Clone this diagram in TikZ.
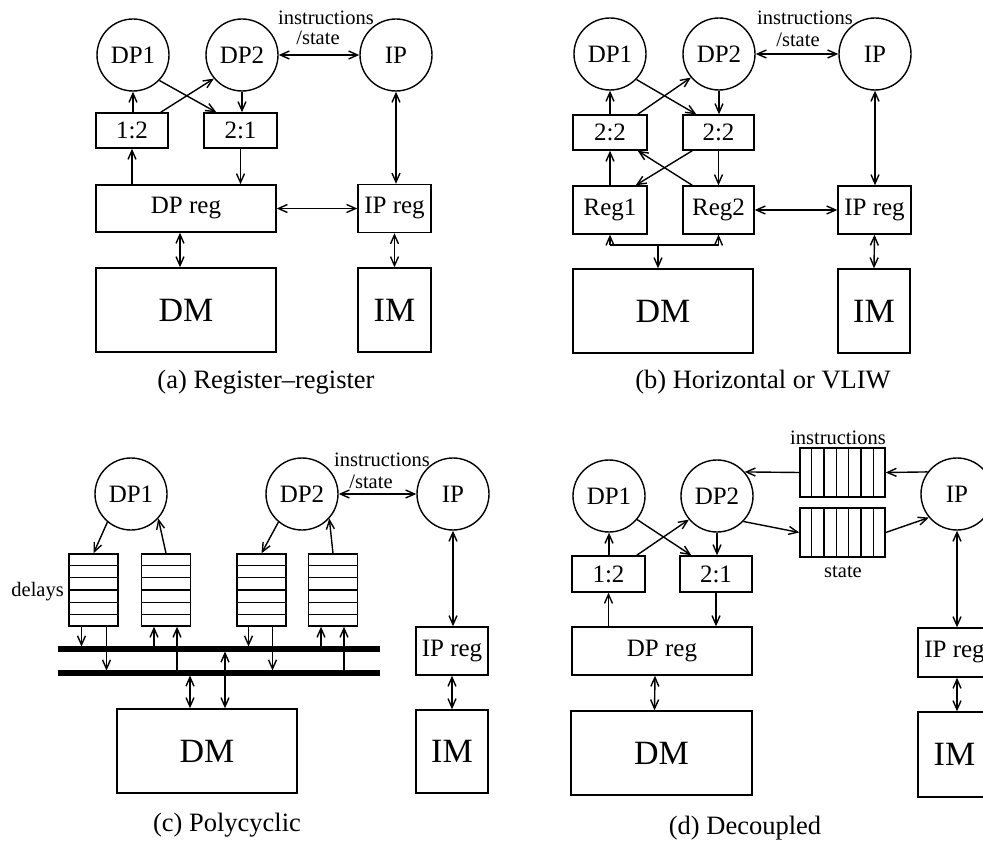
\documentclass[tikz,border=0pt]{standalone}
\usepackage{fontspec}
\setmainfont{Liberation Serif}
\usetikzlibrary{arrows.meta,calc}
\newcommand{\labf}{\fontsize{25}{27}\selectfont}
\newcommand{\bigf}{\fontsize{34}{36}\selectfont}
\newcommand{\smallf}{\fontsize{20.5}{22}\selectfont}
\newcommand{\capf}{\fontsize{26.5}{28}\selectfont}
\begin{document}
\begin{tikzpicture}[x=1pt,y=-1pt,
  circ/.style={draw, circle, line width=1.4pt, minimum size=72pt, inner sep=0pt, font=\labf},
  box/.style={draw, rectangle, line width=1.4pt, inner sep=0pt, font=\labf},
  mem/.style={box, font=\bigf},
  lbl/.style={inner sep=0pt, font=\smallf},
  captxt/.style={inner sep=0pt, font=\capf},
  barb/.tip={Straight Barb[length=9pt,width=8pt]},
  arr/.style={-barb, line width=1.4pt},
  darr/.style={barb-barb, line width=1.4pt},
  busline/.style={line width=5.5pt},
  hline/.style={line width=1.4pt}
]
\useasboundingbox (0,0) rectangle (983,842);
\clip (0,0) rectangle (983,842);

% ================= (a) =================
\node[circ] (dp1a) at (133,55) {DP1};
\node[circ] (dp2a) at (242,55) {DP2};
\node[circ] (ipa) at (396,55) {IP};
\node[box, minimum width=72pt, minimum height=35pt] (b12a) at (132,130.5) {1:2};
\node[box, minimum width=73pt, minimum height=35pt] (b21a) at (240.5,130.5) {2:1};
\node[box, minimum width=180pt, minimum height=47pt] (dprega) at (186,208.5) {DP reg};
\node[box, minimum width=73pt, minimum height=48pt] (iprega) at (394.5,208.5) {IP reg};
\node[mem, minimum width=180pt, minimum height=84pt] (dma) at (186,310) {DM};
\node[mem, minimum width=73pt, minimum height=84pt] (ima) at (394.5,310) {IM};
\node[lbl] (insta) at (326,18) {instructions};
\node[lbl] (statea) at (318,38) {/state};
\node[captxt] (capa) at (266,382) {(a) Register--register};

\draw[arr] (dp1a.south |- b12a.north) -- (dp1a.south);
\draw[arr] ([xshift=-8pt]b12a.north east) -- (dp2a.220);
\draw[arr] (dp1a.-44) -- ([xshift=13pt]b21a.north west);
\draw[arr] (dp2a.south) -- (dp2a.south |- b21a.north);
\draw[arr] (b12a.south |- dprega.north) -- (b12a.south);
\draw[arr] (b21a.south) -- (b21a.south |- dprega.north);
\draw[darr] (dp2a.east) -- (ipa.west);
\draw[darr] (ipa.south) -- (ipa.south |- iprega.north);
\draw[darr] (dprega.east) -- (iprega.west);
\draw[darr] ([xshift=-6pt]dprega.south) -- ([xshift=-6pt]dma.north);
\draw[darr] (iprega.south) -- (ima.north);

% ================= (b) =================
\node[circ] (dp1b) at (610,54) {DP1};
\node[circ] (dp2b) at (719,54) {DP2};
\node[circ] (ipb) at (875,54) {IP};
\node[box, minimum width=74pt, minimum height=35pt] (b22l) at (610,132.5) {2:2};
\node[box, minimum width=71pt, minimum height=35pt] (b22r) at (718.5,132.5) {2:2};
\node[box, minimum width=74pt, minimum height=48pt] (reg1) at (610,210) {Reg1};
\node[box, minimum width=71pt, minimum height=48pt] (reg2) at (718.5,210) {Reg2};
\node[box, minimum width=73pt, minimum height=48pt] (ipregb) at (874.5,210) {IP reg};
\node[mem, minimum width=180pt, minimum height=84pt] (dmb) at (663,311) {DM};
\node[mem, minimum width=72pt, minimum height=84pt] (imb) at (874,311) {IM};
\node[lbl] (instb) at (805,18) {instructions};
\node[lbl] (stateb) at (798,40) {/state};
\node[captxt] (capb) at (763,382) {(b) Horizontal or VLIW};

\coordinate (busb1) at (610,245);
\coordinate (busb2) at (718.5,245);
\coordinate (busbm) at (658,245);
\draw[hline] (busb1) -- (busb2);
\draw[arr] (busb1) -- (reg1.south);
\draw[arr] (busb2) -- (reg2.south);
\draw[arr] (busbm) -- (busbm |- dmb.north);

\draw[arr] (dp1b.south |- b22l.north) -- (dp1b.south);
\draw[arr] ([xshift=-10pt]b22l.north east) -- (dp2b.220);
\draw[arr] (dp1b.-44) -- ([xshift=14pt]b22r.north west);
\draw[arr] (dp2b.south) -- (dp2b.south |- b22r.north);
\draw[arr] (reg1.north) -- (b22l.south);
\draw[arr] (b22r.south) -- (reg2.north);
\draw[arr] ([xshift=10pt]b22r.south west) -- ([xshift=-12pt]reg1.north east);
\draw[arr] ([xshift=10pt]reg2.north west) -- ([xshift=-10pt]b22l.south east);
\draw[darr] (dp2b.east) -- (ipb.west);
\draw[darr] (ipb.south) -- (ipb.south |- ipregb.north);
\draw[darr] (reg2.east) -- (ipregb.west);
\draw[darr] (ipregb.south) -- (imb.north);

% ================= (c) =================
\node[circ] (dp1c) at (131,494) {DP1};
\node[circ] (dp2c) at (302,494) {DP2};
\node[circ] (ipc) at (453,494) {IP};
\node[box, minimum width=49pt, minimum height=72pt] (d1) at (93.5,590) {};
\node[box, minimum width=49pt, minimum height=72pt] (d2) at (166,590) {};
\node[box, minimum width=49pt, minimum height=72pt] (d3) at (261.5,590) {};
\node[box, minimum width=49pt, minimum height=72pt] (d4) at (333,590) {};
\foreach \n in {d1,d2,d3,d4}
  \foreach \k in {1,...,5}
    \draw[hline] ($(\n.north west)!\k/6!(\n.south west)$) -- ($(\n.north east)!\k/6!(\n.south east)$);
\node[lbl, anchor=east] (delays) at (64,592) {delays};
\node[lbl] (instc) at (382,460) {instructions};
\node[lbl] (statec) at (371,482) {/state};
\node[mem, minimum width=180pt, minimum height=84pt] (dmc) at (207,751) {DM};
\node[box, minimum width=72pt, minimum height=48pt] (ipregc) at (452,651) {IP reg};
\node[mem, minimum width=72pt, minimum height=83pt] (imc) at (452,751.5) {IM};
\node[captxt] (capc) at (227,825) {(c) Polycyclic};

\draw[arr] (dp1c.230) -- (d1.north);
\draw[arr] (d2.north) -- (dp1c.-42);
\draw[arr] (dp2c.230) -- (d3.north);
\draw[arr] (d4.north) -- (dp2c.-42);
\draw[darr] (dp2c.east) -- (ipc.west);
\draw[darr] (ipc.south) -- (ipc.south |- ipregc.north);
\draw[darr] (ipregc.south) -- (imc.north);

\coordinate (b1l) at (58,649);
\coordinate (b1r) at (380,649);
\coordinate (b2l) at (58,673);
\coordinate (b2r) at (380,673);
\coordinate (b1t) at (0,646.5);
\coordinate (b1b) at (0,651.5);
\coordinate (b2t) at (0,670.5);
\coordinate (b2b) at (0,675.5);
\coordinate (p1a) at ([xshift=-12pt]d1.south);
\coordinate (p1b) at ([xshift=13pt]d1.south);
\coordinate (p2a) at ([xshift=-12pt]d2.south);
\coordinate (p2b) at ([xshift=11pt]d2.south);
\coordinate (p3a) at ([xshift=-13pt]d3.south);
\coordinate (p3b) at ([xshift=11pt]d3.south);
\coordinate (p4a) at ([xshift=-12pt]d4.south);
\coordinate (p4b) at ([xshift=11pt]d4.south);
\coordinate (m1) at ([xshift=-17pt]dmc.north);
\coordinate (m2) at ([xshift=18pt]dmc.north);
\draw[arr] (p1a) -- (p1a |- b1t);
\draw[arr] (p1b) -- (p1b |- b2t);
\draw[arr] (p2a |- b1t) -- (p2a);
\draw[arr] (p2b |- b2t) -- (p2b);
\draw[arr] (p3a) -- (p3a |- b1t);
\draw[arr] (p3b) -- (p3b |- b2t);
\draw[arr] (p4a |- b1t) -- (p4a);
\draw[arr] (p4b |- b2t) -- (p4b);
\draw[darr] (m1 |- b2b) -- (m1);
\draw[darr] (m2 |- b1b) -- (m2);
\draw[busline] (b1l) -- (b1r);
\draw[busline] (b2l) -- (b2r);

% ================= (d) =================
\node[circ] (dp1d) at (609,496) {DP1};
\node[circ] (dp2d) at (717,496) {DP2};
\node[circ] (ipd) at (957,494) {IP};
\node[box, minimum width=85pt, minimum height=49pt] (qi) at (842.5,472.5) {};
\node[box, minimum width=85pt, minimum height=49pt] (qs) at (842.5,532.5) {};
\foreach \n in {qi,qs}
  \foreach \k in {1,...,6}
    \draw[hline] ($(\n.north west)!\k/7!(\n.north east)$) -- ($(\n.south west)!\k/7!(\n.south east)$);
\node[lbl] (instd) at (838,438) {instructions};
\node[lbl] (stated) at (843,572) {state};
\node[box, minimum width=73pt, minimum height=36pt] (b12d) at (608.5,574) {1:2};
\node[box, minimum width=72pt, minimum height=36pt] (b21d) at (716,574) {2:1};
\node[box, minimum width=180pt, minimum height=48pt] (dpregd) at (662,651) {DP reg};
\node[mem, minimum width=181pt, minimum height=84pt] (dmd) at (661.5,753) {DM};
\node[box, minimum width=73pt, minimum height=49pt] (ipregd) at (954.5,652.5) {IP reg};
\node[mem, minimum width=73pt, minimum height=85pt] (imd) at (954.5,754.5) {IM};
\node[captxt] (capd) at (745,828) {(d) Decoupled};

\draw[arr] (ipd.143) -- (qi.east);
\draw[arr] (qi.west) -- (dp2d.41);
\draw[arr] (dp2d.-44) -- (qs.west);
\draw[arr] (qs.east) -- (ipd.220);
\draw[arr] (dp1d.south |- b12d.north) -- (dp1d.south);
\draw[arr] ([xshift=-9pt]b12d.north east) -- (dp2d.220);
\draw[arr] (dp1d.-40) -- ([xshift=12pt]b21d.north west);
\draw[arr] (dp2d.south) -- (dp2d.south |- b21d.north);
\draw[arr] (b12d.south |- dpregd.north) -- (b12d.south);
\draw[arr] (b21d.south) -- (b21d.south |- dpregd.north);
\draw[darr] (ipd.south) -- (ipd.south |- ipregd.north);
\draw[darr] (ipd.south |- ipregd.south) -- (ipd.south |- imd.north);
\draw[darr] ([xshift=-7pt]dpregd.south) -- ([xshift=-7pt]dmd.north);
\end{tikzpicture}
\end{document}
